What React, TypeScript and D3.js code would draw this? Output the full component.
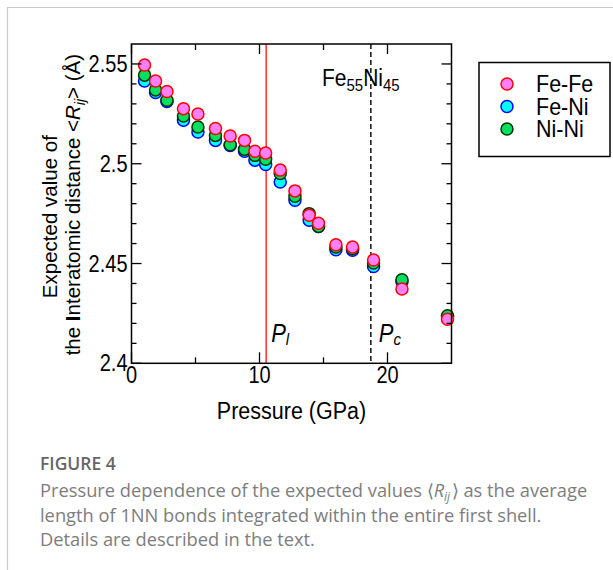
import React from 'react';
import * as d3 from 'd3';

// pressure (GPa) of each calculation
const pressure = [1.02, 1.88, 2.77, 4.06, 5.19, 6.56, 7.71, 8.83, 9.64, 10.48, 11.62, 12.77, 13.88, 14.61, 15.97, 17.27, 18.91, 21.13, 24.69];

// expected 1NN distance <Rij> (Å)
const feFe = [2.5495, 2.5415, 2.5362, 2.5276, 2.5249, 2.5177, 2.5139, 2.5117, 2.5063, 2.5054, 2.4968, 2.4864, 2.4742, 2.4702, 2.4594, 2.4583, 2.4518, 2.4372, 2.4221];
const feNi = [2.5415, 2.5357, 2.5312, 2.5218, 2.5159, 2.5117, 2.5092, 2.5063, 2.5018, 2.4996, 2.4908, 2.4817, 2.4717, 2.4685, 2.4569, 2.4566, 2.4485, 2.4409, 2.4234];
const niNi = [2.5444, 2.5370, 2.5318, 2.5239, 2.5184, 2.5142, 2.5095, 2.5072, 2.5042, 2.5022, 2.4951, 2.4837, 2.4750, 2.4686, 2.4583, 2.4574, 2.4503, 2.4419, 2.4238];

const xMajor = [0, 10, 20];
const xMinor = [5, 15];
const yMajor = [2.4, 2.45, 2.5, 2.55];
const yMinor = [2.41, 2.42, 2.43, 2.44, 2.46, 2.47, 2.48, 2.49, 2.51, 2.52, 2.53, 2.54];

const pL = 10.52;
const pC = 18.7;

// drawing order: Fe-Ni under, Fe-Fe on top
const series = [
  { name: 'Fe-Ni', values: feNi, fill: '#00ffff', stroke: '#0000ff' },
  { name: 'Ni-Ni', values: niNi, fill: '#00e060', stroke: '#003300' },
  { name: 'Fe-Fe', values: feFe, fill: '#ff80ff', stroke: '#ff0000' },
];
const legendOrder = ['Fe-Fe', 'Fe-Ni', 'Ni-Ni'];

const chartFont = '"Liberation Sans", Arial, Helvetica, sans-serif';
const captionFont = '"Open Sans", "Noto Sans", sans-serif';

// the figure's lettering is a bit taller than wide
const SY = 1.15;
const T = ({ x, y, sy = SY, children, ...rest }: any) => (
  <g transform={`translate(${x},${y}) scale(1,${sy})`}>
    <text {...rest}>{children}</text>
  </g>
);

export default function App() {
  const left = 131.5, right = 451.5, top = 44, bottom = 363.3;
  const x = d3.scaleLinear().domain([0, 25]).range([left, right]);
  const y = d3.scaleLinear().domain([2.4, 2.56]).range([bottom, top]);

  const r = 6;

  return (
    <svg width={613} height={570} style={{ position: 'absolute', left: 0, top: 0, background: '#fff' }}
      fontFamily={chartFont}>
      {/* card border */}
      <path d="M7.5,570 V7.5 H613" fill="none" stroke="#c9c9c9" strokeWidth={1.2} />

      {/* transition lines */}
      <line x1={x(pL)} x2={x(pL)} y1={top} y2={bottom} stroke="#ff2020" strokeWidth={1.4} />
      <line x1={x(pC)} x2={x(pC)} y1={top} y2={bottom} stroke="#000" strokeWidth={1.4} strokeDasharray="5,3" />

      {/* markers */}
      {series.map(s => (
        <g key={s.name}>
          {s.values.map((v, i) => (
            <circle key={i} cx={x(pressure[i])} cy={y(v)} r={r} fill={s.fill} stroke={s.stroke} strokeWidth={1.5} />
          ))}
        </g>
      ))}

      {/* frame */}
      <rect x={left} y={top} width={right - left} height={bottom - top} fill="none" stroke="#000" strokeWidth={1.5} />

      {/* y ticks, both sides, inward */}
      {yMajor.map(t => (
        <g key={'ym' + t}>
          <line x1={left} x2={left + 10} y1={y(t)} y2={y(t)} stroke="#000" strokeWidth={1.3} />
          <line x1={right} x2={right - 10} y1={y(t)} y2={y(t)} stroke="#000" strokeWidth={1.3} />
          <T x={left - 4} y={y(t)} dy="0.35em" textAnchor="end" fontSize={20}>{d3.format('')(t)}</T>
        </g>
      ))}
      {yMinor.map(t => (
        <g key={'yn' + t}>
          <line x1={left} x2={left + 5} y1={y(t)} y2={y(t)} stroke="#000" strokeWidth={1.3} />
          <line x1={right} x2={right - 5} y1={y(t)} y2={y(t)} stroke="#000" strokeWidth={1.3} />
        </g>
      ))}

      {/* x ticks, top and bottom, inward */}
      {xMajor.map(t => (
        <g key={'xm' + t}>
          <line x1={x(t)} x2={x(t)} y1={bottom} y2={bottom - 11} stroke="#000" strokeWidth={1.3} />
          <line x1={x(t)} x2={x(t)} y1={top} y2={top + 10} stroke="#000" strokeWidth={1.3} />
          <T x={x(t)} y={bottom + 20} textAnchor="middle" fontSize={20}>{t}</T>
        </g>
      ))}
      {xMinor.map(t => (
        <g key={'xn' + t}>
          <line x1={x(t)} x2={x(t)} y1={bottom} y2={bottom - 6} stroke="#000" strokeWidth={1.3} />
          <line x1={x(t)} x2={x(t)} y1={top} y2={top + 6} stroke="#000" strokeWidth={1.3} />
        </g>
      ))}

      {/* axis titles */}
      <T x={291.5} y={419} textAnchor="middle" fontSize={21.5}>Pressure (GPa)</T>
      <g transform={`translate(0,${(top + bottom) / 2}) rotate(-90)`}>
        <text x={-13} y={57} textAnchor="middle" fontSize={20.5}>Expected value of</text>
        <text x={-1} y={80} textAnchor="middle" fontSize={20.5}>
          the <tspan fontWeight="bold">I</tspan>nteratomic distance &lt;<tspan fontStyle="italic">R</tspan>
          <tspan fontStyle="italic" fontSize={14} dy={5}>ij</tspan>
          <tspan dy={-5}>&gt; (Å)</tspan>
        </text>
      </g>

      {/* annotations */}
      <T x={x(pL) + 5} y={342} fontSize={22} fontStyle="italic">P<tspan fontSize={15} dy={3}>l</tspan></T>
      <T x={x(pC) + 8} y={342} fontSize={22} fontStyle="italic">P<tspan fontSize={15} dy={3}>c</tspan></T>
      <T x={322} y={86} fontSize={21}>
        Fe<tspan fontSize={15} dy={4}>55</tspan><tspan dy={-4}>Ni</tspan><tspan fontSize={15} dy={4}>45</tspan>
      </T>

      {/* legend */}
      <rect x={479} y={62.5} width={131} height={94} fill="#fff" stroke="#000" strokeWidth={1.5} />
      {legendOrder.map((name, i) => {
        const s = series.find(d => d.name === name)!;
        const cy = 84 + i * 22.5;
        return (
          <g key={name}>
            <circle cx={507} cy={cy} r={r} fill={s.fill} stroke={s.stroke} strokeWidth={1.5} />
            <T x={536} y={cy} sy={1.1} dy="0.35em" fontSize={21.5}>{name}</T>
          </g>
        );
      })}

      {/* caption */}
      <g fontFamily={captionFont} fill="#7d7d7d">
        <text x={40} y={470} fontSize={17.5} fill="#666" fontWeight="600">FIGURE 4</text>
        <text x={40} y={497} fontSize={18.3}>
          Pressure dependence of the expected values ⟨<tspan fontStyle="italic">R</tspan>
          <tspan fontStyle="italic" fontSize={12} dy={4}>ij</tspan><tspan dx={1.5} dy={-4}>⟩ as the average</tspan>
        </text>
        <text x={40} y={521.5} fontSize={18.3}>length of 1NN bonds integrated within the entire first shell.</text>
        <text x={40} y={546} fontSize={18.3}>Details are described in the text.</text>
      </g>
    </svg>
  );
}
